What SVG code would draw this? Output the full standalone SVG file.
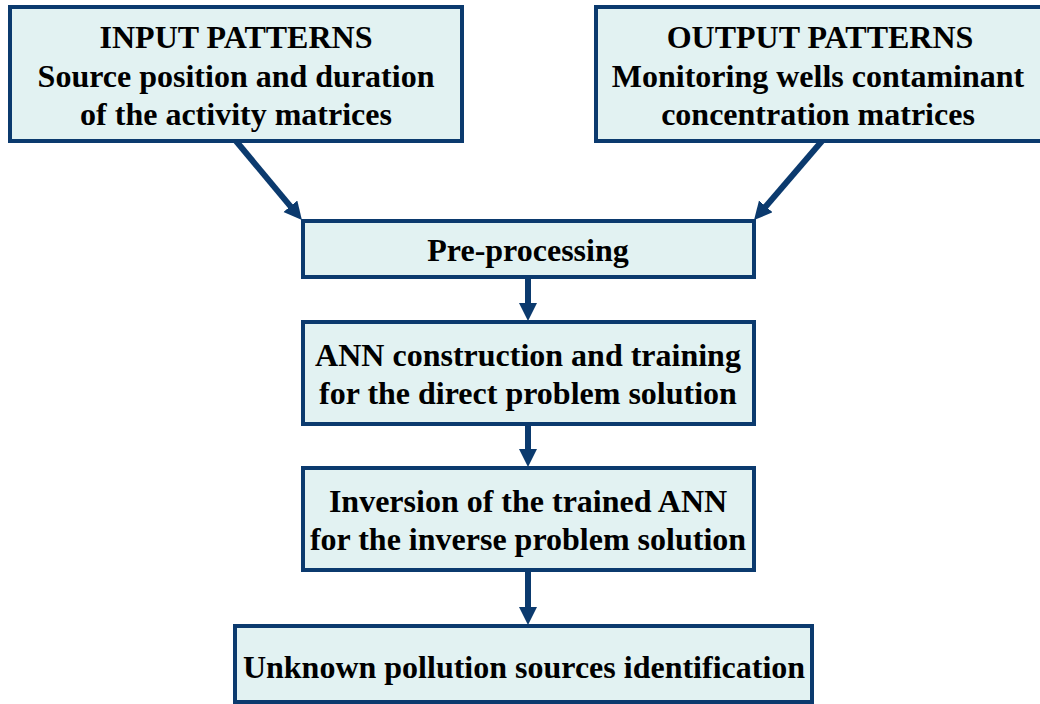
<svg xmlns="http://www.w3.org/2000/svg" width="1040" height="704" viewBox="0 0 1040 704">
  <style>
    .box { fill: #E2F2F2; stroke: #0B3A6E; stroke-width: 4; }
    .label { font-family: "Liberation Serif", "Times New Roman", serif; font-weight: bold; font-size: 32px; fill: #000; text-anchor: middle; }
    .link { stroke: #0B3A6E; stroke-width: 6; fill: none; marker-end: url(#head); }
  </style>
  <defs>
    <marker id="head" markerUnits="userSpaceOnUse" markerWidth="20" markerHeight="20" refX="8" refY="9" orient="auto">
      <path d="M0,0 L18,9 L0,18 z" fill="#0B3A6E"/>
    </marker>
  </defs>
  <rect width="1040" height="704" fill="#FFFFFF"/>

  <g id="connectors">
    <line class="link" x1="236" y1="141" x2="295.5" y2="212.4"/>
    <line class="link" x1="822" y1="141" x2="760.6" y2="212.5"/>
    <line class="link" x1="528" y1="279" x2="528" y2="311"/>
    <line class="link" x1="528" y1="426" x2="528" y2="457"/>
    <line class="link" x1="528" y1="572" x2="528" y2="615"/>
  </g>

  <g id="input-patterns">
    <rect class="box" x="10" y="7" width="452" height="134"/>
    <text class="label" x="236" y="48">INPUT PATTERNS</text>
    <text class="label" x="236" y="87">Source position and duration</text>
    <text class="label" x="236" y="125">of the activity matrices</text>
  </g>

  <g id="output-patterns">
    <rect class="box" x="596" y="7" width="460" height="134"/>
    <text class="label" x="820" y="48">OUTPUT PATTERNS</text>
    <text class="label" x="818" y="87">Monitoring wells contaminant</text>
    <text class="label" x="818" y="125">concentration matrices</text>
  </g>

  <g id="pre-processing">
    <rect class="box" x="303" y="221" width="451" height="56"/>
    <text class="label" x="528" y="261">Pre-processing</text>
  </g>

  <g id="ann-training">
    <rect class="box" x="303" y="322" width="451" height="102"/>
    <text class="label" x="528" y="366">ANN construction and training</text>
    <text class="label" x="528" y="404">for the direct problem solution</text>
  </g>

  <g id="ann-inversion">
    <rect class="box" x="303" y="468" width="451" height="102"/>
    <text class="label" x="528" y="512">Inversion of the trained ANN</text>
    <text class="label" x="528" y="550">for the inverse problem solution</text>
  </g>

  <g id="source-identification">
    <rect class="box" x="235" y="626" width="577" height="76"/>
    <text class="label" x="524" y="678">Unknown pollution sources identification</text>
  </g>
</svg>
